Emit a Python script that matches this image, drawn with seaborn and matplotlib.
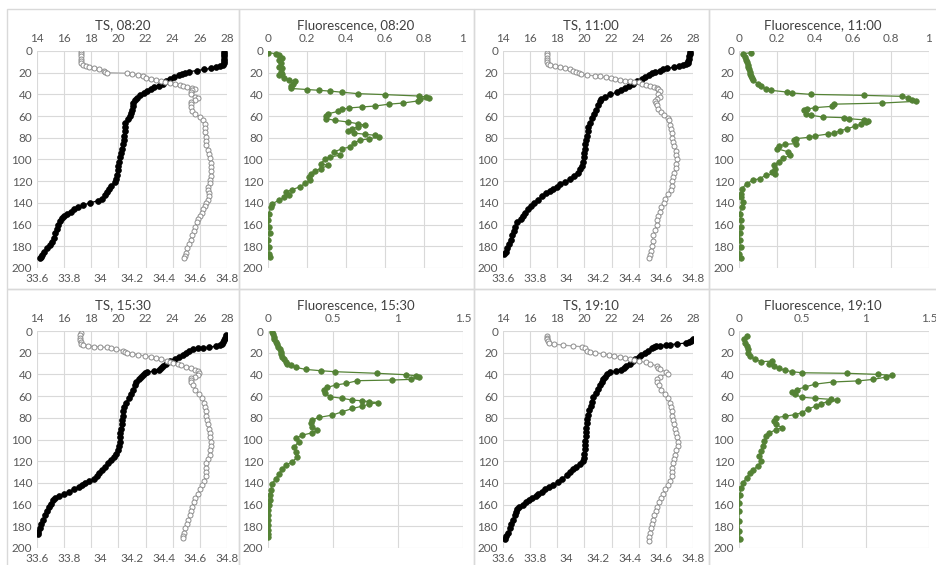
import numpy as np
import pandas as pd
import matplotlib
matplotlib.use('Agg')
import matplotlib.pyplot as plt
import seaborn as sns
from matplotlib.patches import Rectangle

# ---- data (depth in m) ----
times = ['08:20', '11:00', '15:30', '19:10']

temp_0820_depth = [1, 3, 5, 7, 9, 11, 13, 14, 15, 16, 17, 18, 19, 20, 21, 22, 24, 26, 28, 30, 32, 33, 35, 37, 39, 41, 43, 45, 48, 51, 54, 57, 60, 63, 66, 70, 74, 78, 82, 86, 90, 94, 98, 102, 106, 110, 114, 118, 121, 124, 127, 130, 133, 136, 138, 140, 142, 144, 146, 148, 150, 152, 154, 157, 160, 164, 168, 172, 176, 179, 182, 185, 188, 190, 191]
temp_0820 = [27.8, 27.8, 27.8, 27.78, 27.75, 27.75, 27.7, 27.5, 27.2, 26.8, 26.3, 25.8, 25.2, 24.9, 24.7, 24.5, 24.1, 23.8, 23.5, 23.3, 23.0, 22.6, 22.4, 22.1, 21.9, 21.6, 21.4, 21.2, 21.1, 21.05, 21.0, 20.95, 20.85, 20.7, 20.5, 20.45, 20.45, 20.42, 20.4, 20.35, 20.3, 20.2, 20.12, 20.05, 20.0, 19.95, 19.9, 19.85, 19.75, 19.45, 19.3, 19.15, 19.0, 18.8, 18.5, 17.9, 17.4, 17.0, 16.7, 16.5, 16.2, 16.0, 15.85, 15.7, 15.55, 15.45, 15.35, 15.25, 15.1, 14.95, 14.75, 14.55, 14.4, 14.3, 14.25]
sal_0820_depth = [1, 3, 5, 7, 9, 11, 13, 14, 15, 16, 17, 18, 19, 20, 20.5, 21.5, 22.5, 23.5, 24.5, 25.5, 26.5, 27.5, 28.5, 29.5, 30.5, 31.5, 32.5, 33.5, 34.5, 35, 36, 38, 40, 42, 43, 45, 47, 49, 52, 55, 58, 61, 64, 67, 71, 75, 79, 83, 87, 91, 95, 99, 103, 107, 111, 115, 119, 122, 125, 128, 131, 134, 137, 140, 143, 146, 149, 152, 155, 158, 162, 166, 170, 174, 178, 182, 186, 189, 191]
sal_0820 = [33.88, 33.875, 33.875, 33.875, 33.875, 33.88, 33.89, 33.91, 33.93, 33.96, 33.99, 34.02, 34.03, 34.04, 34.17, 34.2, 34.24, 34.27, 34.29, 34.32, 34.35, 34.38, 34.41, 34.44, 34.47, 34.5, 34.52, 34.55, 34.58, 34.6, 34.58, 34.57, 34.57, 34.6, 34.62, 34.6, 34.57, 34.57, 34.575, 34.58, 34.6, 34.63, 34.65, 34.66, 34.66, 34.66, 34.665, 34.67, 34.67, 34.68, 34.685, 34.69, 34.7, 34.7, 34.7, 34.7, 34.695, 34.69, 34.68, 34.68, 34.685, 34.685, 34.68, 34.67, 34.66, 34.65, 34.64, 34.63, 34.62, 34.61, 34.6, 34.59, 34.58, 34.57, 34.56, 34.55, 34.54, 34.535, 34.53]
fl_0820_depth = [1.5, 2.5, 4, 6, 8.5, 11.5, 14.5, 16, 19, 21, 22.5, 24.5, 26.5, 28, 30, 32.5, 34.5, 35.5, 36.2, 37, 38, 39.3, 40.2, 41.5, 42.4, 43.3, 44.5, 46, 48, 49, 50.7, 51.6, 52.5, 53.8, 55.6, 57.8, 60, 62.4, 64, 65.4, 67, 68.5, 70, 71.6, 73.7, 75.6, 76.8, 77.7, 79.3, 80.8, 82.3, 84.8, 88.5, 90, 93, 96, 97.7, 100, 104, 105.4, 108.4, 110.6, 113, 116, 119, 122, 125, 127.8, 130, 133, 135, 137.6, 140.7, 143.8, 150, 156, 162, 168, 174.5, 180.6, 187, 190]
fl_0820 = [0.0, 0.04, 0.056, 0.074, 0.056, 0.065, 0.056, 0.074, 0.065, 0.074, 0.056, 0.082, 0.108, 0.14, 0.13, 0.116, 0.116, 0.2, 0.26, 0.32, 0.38, 0.46, 0.6, 0.775, 0.81, 0.825, 0.78, 0.77, 0.69, 0.62, 0.55, 0.48, 0.415, 0.38, 0.36, 0.31, 0.295, 0.3, 0.345, 0.41, 0.46, 0.5, 0.46, 0.43, 0.41, 0.44, 0.5, 0.55, 0.57, 0.52, 0.47, 0.44, 0.42, 0.38, 0.34, 0.37, 0.32, 0.29, 0.27, 0.31, 0.27, 0.24, 0.22, 0.21, 0.215, 0.19, 0.165, 0.125, 0.09, 0.108, 0.082, 0.056, 0.022, 0.014, 0.005, 0.002, 0.005, 0.008, 0.002, 0.005, 0.005, 0.008]

temp_1100_depth = [1, 3, 5, 7, 9, 11, 12, 13, 14, 15, 16, 17, 18, 19, 20, 22, 24, 26, 28, 30, 32, 34, 36, 38, 40, 42, 44, 46, 50, 54, 58, 62, 66, 70, 74, 78, 82, 86, 90, 94, 98, 102, 106, 109, 112, 115, 118, 121, 123, 125, 127, 129, 131, 134, 137, 140, 143, 146, 149, 152, 155, 158, 162, 166, 170, 174, 178, 182, 185, 187]
temp_1100 = [27.75, 27.75, 27.7, 27.68, 27.65, 27.6, 27.45, 27.25, 27.0, 26.6, 26.1, 25.8, 25.55, 25.2, 25.0, 24.75, 24.5, 24.25, 23.9, 23.6, 23.3, 23.0, 22.7, 22.4, 21.9, 21.5, 21.25, 21.15, 21.0, 20.85, 20.7, 20.55, 20.4, 20.3, 20.25, 20.2, 20.15, 20.05, 20.02, 20.0, 19.95, 19.9, 19.82, 19.7, 19.5, 19.2, 18.95, 18.6, 18.2, 17.95, 17.7, 17.45, 17.2, 16.9, 16.6, 16.3, 16.1, 15.85, 15.65, 15.45, 15.3, 15.05, 14.9, 14.8, 14.7, 14.58, 14.45, 14.3, 14.2, 14.1]
sal_1100_depth = [2, 4, 6, 8, 10, 12, 13.3, 14, 15, 16, 17, 18, 19, 20, 21.6, 22, 23, 23.5, 24.2, 24.7, 25.5, 26.5, 27.2, 27.8, 28.3, 28.7, 30, 31, 32, 33, 34, 35, 37, 39.5, 42, 44, 46, 48, 50, 53, 56, 59, 62, 64, 68, 72, 76, 80, 84, 88, 92, 96, 100, 104, 108, 112, 116, 120, 124, 128, 132, 136, 140, 144, 148, 152, 156, 160, 165, 170, 175, 180, 184, 188, 190.5]
sal_1100 = [33.88, 33.877, 33.877, 33.88, 33.88, 33.885, 33.9, 33.93, 33.96, 33.99, 34.02, 34.04, 34.06, 34.08, 34.09, 34.13, 34.18, 34.21, 34.25, 34.28, 34.31, 34.34, 34.37, 34.4, 34.43, 34.46, 34.48, 34.5, 34.53, 34.555, 34.57, 34.58, 34.59, 34.58, 34.59, 34.57, 34.56, 34.565, 34.57, 34.58, 34.595, 34.615, 34.64, 34.65, 34.655, 34.66, 34.665, 34.67, 34.675, 34.68, 34.69, 34.695, 34.7, 34.695, 34.69, 34.68, 34.675, 34.67, 34.665, 34.66, 34.64, 34.625, 34.615, 34.6, 34.59, 34.58, 34.575, 34.57, 34.56, 34.55, 34.545, 34.54, 34.535, 34.53, 34.52]
fl_1100_depth = [1.5, 2.5, 5.5, 8, 10, 12.5, 14.7, 17, 19.4, 21.5, 23.3, 25, 27, 30, 32.6, 34.7, 36.2, 37.8, 38.7, 40, 40.9, 41.8, 43, 44.9, 46.4, 48, 49, 51, 52.2, 53.5, 54.7, 57.8, 59.3, 60.8, 61.4, 62.4, 63.5, 64.5, 65.7, 67.6, 69.4, 71.6, 73.7, 75.5, 76.5, 78.2, 79.5, 80.8, 82.3, 85.4, 86, 87.9, 90, 93, 96, 99, 102, 105, 108.4, 111.5, 113, 114.6, 117.7, 119, 122.3, 127, 131.5, 135, 139, 143.8, 150, 156, 162, 168, 174, 180.6, 186.8, 191]
fl_1100 = [0.065, 0.022, 0.03, 0.035, 0.04, 0.045, 0.048, 0.052, 0.056, 0.06, 0.065, 0.07, 0.074, 0.1, 0.116, 0.14, 0.167, 0.25, 0.28, 0.38, 0.66, 0.86, 0.89, 0.91, 0.93, 0.75, 0.5, 0.49, 0.4, 0.36, 0.34, 0.35, 0.38, 0.44, 0.55, 0.58, 0.66, 0.68, 0.67, 0.64, 0.61, 0.57, 0.53, 0.5, 0.47, 0.4, 0.37, 0.3, 0.29, 0.3, 0.24, 0.21, 0.2, 0.26, 0.27, 0.23, 0.21, 0.185, 0.19, 0.175, 0.19, 0.14, 0.108, 0.074, 0.04, 0.014, 0.01, 0.01, 0.02, 0.015, 0.005, 0.012, 0.008, 0.003, 0.003, 0.008, 0.002, 0.008]

temp_1530_depth = [4, 6, 8, 10, 12, 13, 14, 15, 15.5, 16, 17, 18, 20, 22, 24, 26, 28, 30, 32, 34, 36, 37, 38, 39, 40.5, 42, 44, 47, 50, 54, 58, 62, 66, 70, 74, 78, 82, 86, 90, 94, 98, 102, 106, 110, 113, 116, 119, 122, 125, 128, 131, 134, 136, 138, 140, 142, 144, 146, 148, 150, 152, 154, 156, 159, 162, 166, 170, 174, 178, 182, 185, 187]
temp_1530 = [27.9, 27.85, 27.8, 27.7, 27.65, 27.5, 27.2, 26.7, 26.2, 25.9, 25.5, 25.2, 24.95, 24.75, 24.5, 24.15, 23.8, 23.5, 23.3, 23.15, 23.0, 22.6, 22.1, 21.95, 21.8, 21.65, 21.5, 21.3, 21.2, 21.1, 20.95, 20.75, 20.55, 20.42, 20.37, 20.33, 20.3, 20.25, 20.2, 20.15, 20.12, 20.08, 20.02, 19.95, 19.85, 19.65, 19.45, 19.22, 18.98, 18.8, 18.6, 18.4, 18.2, 17.8, 17.5, 17.3, 17.1, 16.7, 16.35, 16.0, 15.6, 15.35, 15.2, 15.0, 14.9, 14.75, 14.6, 14.45, 14.32, 14.2, 14.1, 14.05]
sal_1530_depth = [2, 4, 6, 8, 10, 12, 13, 13.8, 14.3, 14.6, 15.2, 16, 17, 18, 19, 20, 21, 22, 23, 24, 25, 26, 27.4, 28.5, 29.5, 30.5, 31.5, 33, 34.5, 36, 37, 38.5, 40.5, 42, 43.5, 45, 47, 50, 54, 58, 62, 66, 70, 74, 78, 82, 86, 90, 94, 98, 102, 106, 110, 114, 118, 122, 126, 130, 134, 138, 142, 146, 150, 154, 158, 162, 166, 170, 174, 178, 182, 186, 189, 191]
sal_1530 = [33.875, 33.872, 33.872, 33.872, 33.875, 33.88, 33.89, 33.92, 33.96, 34.0, 34.04, 34.07, 34.1, 34.14, 34.155, 34.17, 34.2, 34.24, 34.28, 34.32, 34.35, 34.38, 34.42, 34.44, 34.46, 34.49, 34.51, 34.54, 34.57, 34.6, 34.615, 34.625, 34.62, 34.595, 34.575, 34.57, 34.575, 34.585, 34.6, 34.625, 34.645, 34.655, 34.66, 34.665, 34.67, 34.675, 34.68, 34.685, 34.69, 34.695, 34.7, 34.7, 34.695, 34.69, 34.68, 34.67, 34.665, 34.665, 34.665, 34.655, 34.645, 34.63, 34.615, 34.6, 34.59, 34.58, 34.575, 34.565, 34.555, 34.545, 34.535, 34.53, 34.525, 34.52]
fl_1530_depth = [1.2, 3, 5.2, 7.5, 9.8, 12, 14.5, 17, 19, 21.5, 23.7, 26, 28.3, 30, 31.4, 33.5, 35.4, 36.6, 37.5, 39, 40.3, 41.2, 42.8, 44.6, 45.2, 45.8, 48.3, 49.8, 52, 54.5, 57.5, 60.6, 62, 63.7, 64.3, 65.2, 66, 67.4, 69.2, 71.4, 74.5, 77.5, 79.7, 82, 84.6, 88.3, 91.4, 93.8, 96, 99, 102, 106.8, 111.4, 116, 120.6, 123.7, 126.8, 131.4, 136, 140.6, 146.8, 151, 156, 160, 165, 170, 174.5, 179, 183.7, 187, 190]
fl_1530 = [0.033, 0.04, 0.046, 0.05, 0.06, 0.07, 0.08, 0.09, 0.1, 0.1, 0.11, 0.12, 0.136, 0.15, 0.174, 0.213, 0.29, 0.405, 0.513, 0.84, 1.06, 1.136, 1.16, 1.1, 0.956, 0.687, 0.6, 0.52, 0.456, 0.43, 0.44, 0.48, 0.57, 0.65, 0.726, 0.78, 0.85, 0.78, 0.726, 0.65, 0.57, 0.495, 0.39, 0.34, 0.33, 0.34, 0.38, 0.34, 0.264, 0.213, 0.238, 0.2, 0.213, 0.225, 0.187, 0.136, 0.11, 0.085, 0.06, 0.033, 0.02, 0.015, 0.013, 0.008, 0.003, 0.003, 0.003, 0.002, 0.0, 0.002, 0.003]

temp_1910_depth = [7.7, 9, 10, 11, 12, 12.5, 13, 13.5, 14, 15, 16, 18, 20, 22, 24, 26, 28, 30, 32, 34, 36, 37, 38, 40, 42, 44, 47, 50, 53, 57, 61, 65, 69, 73, 77, 81, 85, 89, 93, 97, 101, 105, 109, 113, 117, 120, 123, 125, 127, 130, 133, 136, 139, 142, 144, 146, 148, 150, 152, 154, 156, 158, 160, 162, 164, 167, 170, 174, 178, 182, 186, 189, 192]
temp_1910 = [28.0, 27.85, 27.7, 27.5, 26.8, 26.3, 26.0, 25.6, 25.3, 25.1, 24.95, 24.7, 24.5, 24.2, 24.0, 23.75, 23.55, 23.35, 23.1, 22.95, 22.7, 22.3, 21.9, 21.7, 21.5, 21.38, 21.27, 21.15, 21.0, 20.85, 20.66, 20.55, 20.46, 20.35, 20.28, 20.22, 20.17, 20.14, 20.12, 20.1, 20.07, 20.05, 20.03, 20.0, 19.97, 19.9, 19.7, 19.4, 19.15, 18.95, 18.7, 18.35, 18.05, 17.72, 17.4, 17.1, 16.85, 16.6, 16.4, 16.15, 15.95, 15.7, 15.45, 15.2, 15.05, 14.95, 14.85, 14.72, 14.6, 14.48, 14.35, 14.25, 14.15]
sal_1910_depth = [4.6, 6, 7.7, 9.5, 11.4, 12, 13, 13.8, 14.5, 16, 18, 19, 20, 21, 22, 23, 24, 25, 26, 27, 27.7, 29, 30, 32.3, 34, 35.4, 37.5, 39.7, 42, 44.6, 47, 50, 54, 58, 62, 66, 70, 74, 78, 82, 86, 90, 94, 98, 102, 106, 110, 114, 118, 122, 126, 130, 134, 138, 142, 146, 150, 154, 158, 162, 166, 170, 174, 178, 182, 186, 190, 193.5]
sal_1910 = [33.877, 33.877, 33.88, 33.882, 33.89, 33.92, 33.98, 34.04, 34.1, 34.12, 34.13, 34.15, 34.18, 34.23, 34.27, 34.3, 34.34, 34.37, 34.4, 34.43, 34.46, 34.5, 34.53, 34.57, 34.58, 34.59, 34.63, 34.64, 34.59, 34.57, 34.575, 34.585, 34.6, 34.625, 34.645, 34.655, 34.66, 34.665, 34.67, 34.675, 34.68, 34.685, 34.695, 34.7, 34.705, 34.705, 34.695, 34.685, 34.68, 34.675, 34.67, 34.67, 34.665, 34.655, 34.64, 34.625, 34.61, 34.6, 34.585, 34.575, 34.565, 34.555, 34.545, 34.54, 34.535, 34.53, 34.525, 34.52]
fl_1910_depth = [4.6, 7.7, 10.8, 13.8, 17, 20, 23, 26, 28.3, 27.7, 30, 32, 34.5, 36.3, 37.5, 38.5, 39, 40, 41, 42.5, 44.6, 46, 47, 49, 51.7, 54, 56, 58.5, 61, 62, 63, 64, 65, 67, 69, 72, 75.4, 77, 78.5, 80, 83, 86, 89, 91, 94, 97, 101.5, 106, 110.8, 115.4, 120, 124.6, 127.7, 130.8, 135.4, 140, 144.6, 150.8, 158.5, 166, 175.4, 184.6, 192]
fl_1910 = [0.06, 0.04, 0.046, 0.06, 0.072, 0.072, 0.085, 0.123, 0.174, 0.264, 0.238, 0.277, 0.315, 0.367, 0.418, 0.5, 0.854, 1.1, 1.21, 1.16, 1.06, 0.94, 0.74, 0.6, 0.52, 0.456, 0.418, 0.44, 0.495, 0.6, 0.726, 0.777, 0.7, 0.65, 0.61, 0.546, 0.495, 0.443, 0.367, 0.29, 0.277, 0.29, 0.34, 0.29, 0.238, 0.213, 0.2, 0.187, 0.174, 0.16, 0.174, 0.15, 0.11, 0.085, 0.06, 0.028, 0.013, 0.008, 0.003, 0.0, 0.0, 0.003, 0.008]

# axis ticks / labels
depth_ticks = [0, 20, 40, 60, 80, 100, 120, 140, 160, 180, 200]
temp_ticks = [14, 16, 18, 20, 22, 24, 26, 28]
sal_ticks = [33.6, 33.8, 34.0, 34.2, 34.4, 34.6, 34.8]
sal_labels = ['33.6', '33.8', '34', '34.2', '34.4', '34.6', '34.8']
fl_ticks_am = [0, 0.2, 0.4, 0.6, 0.8, 1.0]
fl_labels_am = ['0', '0.2', '0.4', '0.6', '0.8', '1']
fl_ticks_pm = [0, 0.5, 1.0, 1.5]
fl_labels_pm = ['0', '0.5', '1', '1.5']

ts_data = {
    '08:20': (temp_0820_depth, temp_0820, sal_0820_depth, sal_0820),
    '11:00': (temp_1100_depth, temp_1100, sal_1100_depth, sal_1100),
    '15:30': (temp_1530_depth, temp_1530, sal_1530_depth, sal_1530),
    '19:10': (temp_1910_depth, temp_1910, sal_1910_depth, sal_1910),
}
fl_data = {
    '08:20': (fl_0820_depth, fl_0820, fl_ticks_am, fl_labels_am),
    '11:00': (fl_1100_depth, fl_1100, fl_ticks_am, fl_labels_am),
    '15:30': (fl_1530_depth, fl_1530, fl_ticks_pm, fl_labels_pm),
    '19:10': (fl_1910_depth, fl_1910, fl_ticks_pm, fl_labels_pm),
}

sns.set_style('white')
plt.rcParams['font.family'] = ['Lato', 'DejaVu Sans']

W, H = 937, 565
fig = plt.figure(figsize=(W / 100, H / 100), dpi=100)

def box(l, t, r, b):
    # pixel box -> figure fraction
    return [l / W, 1 - b / H, (r - l) / W, (b - t) / H]

GRID = '#d9d9d9'
TXT = '#595959'
TICK_FS = 8.5
TITLE_FS = 9.5

# chart area frames
for (l, r) in [(7, 239), (239, 474), (474, 709), (709, 940)]:
    for (t, b) in [(9, 289), (289, 570)]:
        fig.patches.append(Rectangle((l / W, 1 - b / H), (r - l) / W, (b - t) / H,
                                     transform=fig.transFigure, fill=False,
                                     edgecolor=GRID, linewidth=1.0, zorder=0))

rows = [(51, 268, 25), (331, 548, 305)]
layout = [('08:20', 0, 0), ('11:00', 0, 1), ('15:30', 1, 0), ('19:10', 1, 1)]
ts_cols = [(37, 227, 123), (503, 693, 591)]
fl_cols = [(268, 463, 356), (739, 929, 823)]

def style_common(ax):
    for s in ax.spines.values():
        s.set_visible(False)
    ax.tick_params(length=0, labelsize=TICK_FS, colors=TXT)
    ax.set_xlabel('')
    ax.set_ylabel('')

for t, r, c in layout:
    top, bot, ty = rows[r]

    # ---- TS panel ----
    l, rr, tx = ts_cols[c]
    td, tv, sd, sv = ts_data[t]
    ax = fig.add_axes(box(l, top, rr, bot))
    ax2 = ax.twiny()
    sns.lineplot(x=tv, y=td, sort=False, estimator=None, ax=ax, color='black',
                 linewidth=0.9, marker='o', markersize=4.2, markeredgecolor='black',
                 markerfacecolor='black', markeredgewidth=0.5, zorder=3)
    sns.lineplot(x=sv, y=sd, sort=False, estimator=None, ax=ax2, color='#a6a6a6',
                 linewidth=0.9, marker='o', markersize=3.6, markeredgecolor='#8c8c8c',
                 markerfacecolor='white', markeredgewidth=0.7, zorder=3)
    ax.set_xlim(14, 28)
    ax2.set_xlim(33.6, 34.8)
    ax.set_ylim(200, 0)
    ax.set_xticks(temp_ticks, [str(v) for v in temp_ticks])
    ax2.set_xticks(sal_ticks, sal_labels)
    ax.set_yticks(depth_ticks, [str(v) for v in depth_ticks])
    ax.xaxis.tick_top()
    ax2.xaxis.tick_bottom()
    ax.grid(True, color=GRID, linewidth=0.8)
    ax.set_axisbelow(True)
    ax2.grid(False)
    style_common(ax)
    style_common(ax2)
    ax.tick_params(axis='x', pad=5)
    ax.tick_params(axis='y', pad=3.5)
    ax2.tick_params(axis='x', pad=3.5)
    fig.text(tx / W, 1 - ty / H, 'TS, ' + t, ha='center', va='center',
             fontsize=TITLE_FS, color='#404040')

    # ---- Fluorescence panel ----
    l, rr, tx = fl_cols[c]
    fd, fv, fticks, flabels = fl_data[t]
    ax = fig.add_axes(box(l, top, rr, bot))
    sns.lineplot(x=fv, y=fd, sort=False, estimator=None, ax=ax, color='#548235',
                 linewidth=0.9, marker='o', markersize=4.0, markeredgecolor='#548235',
                 markerfacecolor='#548235', markeredgewidth=0.5, zorder=3)
    ax.set_xlim(fticks[0], fticks[-1])
    ax.set_ylim(200, 0)
    ax.set_xticks(fticks, flabels)
    ax.set_yticks(depth_ticks, [str(v) for v in depth_ticks])
    ax.xaxis.tick_top()
    ax.grid(True, color=GRID, linewidth=0.8)
    ax.set_axisbelow(True)
    style_common(ax)
    ax.tick_params(axis='x', pad=5)
    ax.tick_params(axis='y', pad=3.5)
    fig.text(tx / W, 1 - ty / H, 'Fluorescence, ' + t, ha='center', va='center',
             fontsize=TITLE_FS, color='#404040')

plt.savefig('out.png', dpi=100)
